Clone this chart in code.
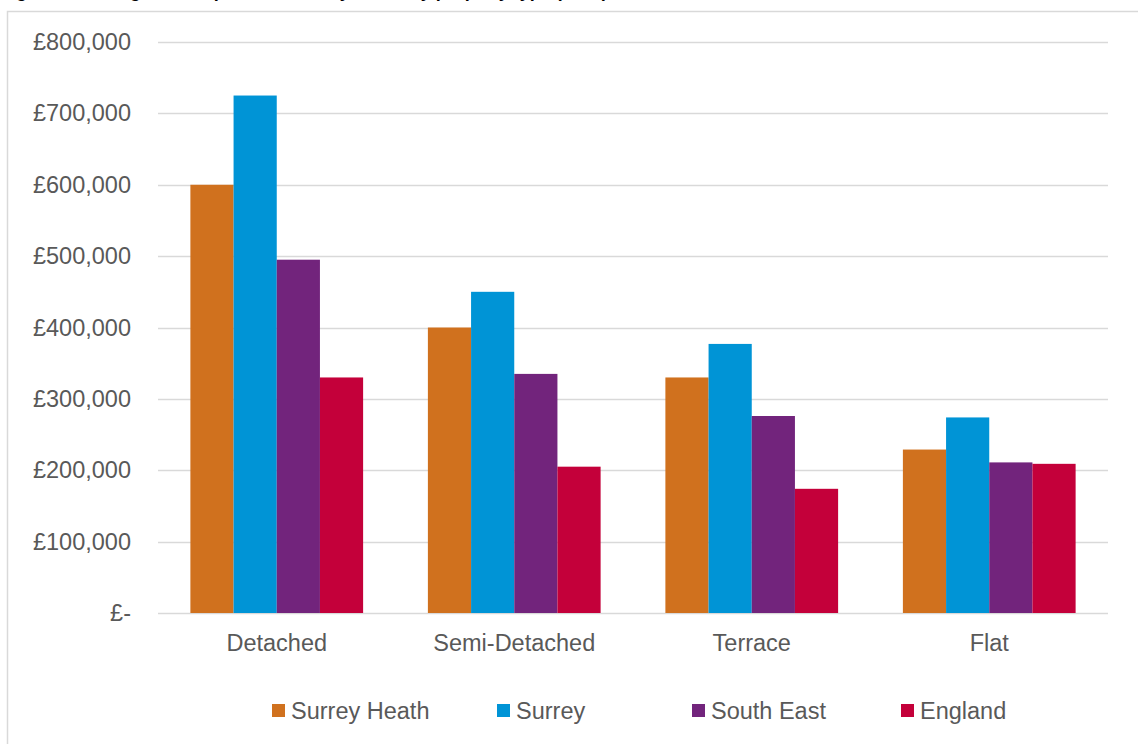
<!DOCTYPE html>
<html>
  <head>
    <meta charset="utf-8" />
    <title>House prices by type</title>
    <style>
      body {
        margin: 0;
        background: #fff;
        font-family: "Liberation Sans", Arial, sans-serif;
      }
      .grid line {
        stroke: #d9d9d9;
        stroke-width: 1.5px;
      }
      .axis-label {
        fill: #595959;
        font-size: 23.5px;
      }
    </style>
    <script src="https://d3js.org/d3.v7.min.js"></script>
  </head>
  <body>
    <div id="chart"></div>
    <script>
      // data
      const categories = ["Detached", "Semi-Detached", "Terrace", "Flat"];
      const seriesNames = ["Surrey Heath", "Surrey", "South East", "England"];
      const surreyHeath = [600000, 400000, 330000, 229000];
      const surrey = [725000, 450000, 377000, 274000];
      const southEast = [495000, 335000, 276000, 211000];
      const england = [330000, 205000, 174000, 209000];
      const yTicks = [0, 100000, 200000, 300000, 400000, 500000, 600000, 700000, 800000];
      const colors = ["#D0711E", "#0094D6", "#72247C", "#C4003A"];

      const series = [surreyHeath, surrey, southEast, england];

      const W = 1138, H = 744;
      const plot = { left: 158, right: 1108, top: 42, bottom: 613 };

      const svg = d3
        .select("#chart")
        .append("svg")
        .attr("width", W)
        .attr("height", H);

      // title, mostly cut off above the image (as in the reference)
      svg
        .append("text")
        .attr("x", 0)
        .attr("y", -3)
        .style("font-weight", "bold")
        .style("font-size", "18px")
        .attr("fill", "#000")
        .text("Figure 8: Average house prices in Surrey Heath by property type (2021)");

      // chart frame
      svg
        .append("rect")
        .attr("x", 7.5)
        .attr("y", 11.5)
        .attr("width", W)
        .attr("height", H)
        .attr("fill", "none")
        .attr("stroke", "#d9d9d9")
        .attr("stroke-width", 1.5);

      const x0 = d3
        .scaleBand()
        .domain(categories)
        .range([plot.left, plot.right]);

      // gap width 150% like Excel
      const x1 = d3
        .scaleBand()
        .domain(seriesNames)
        .range([0, x0.bandwidth()])
        .paddingOuter(0.75)
        .paddingInner(0);

      const y = d3
        .scaleLinear()
        .domain([0, 800000])
        .range([plot.bottom, plot.top]);

      // gridlines
      svg
        .append("g")
        .attr("class", "grid")
        .selectAll("line")
        .data(yTicks)
        .join("line")
        .attr("x1", plot.left)
        .attr("x2", plot.right)
        .attr("y1", (d) => Math.round(y(d)) + 0.5)
        .attr("y2", (d) => Math.round(y(d)) + 0.5);

      // y labels
      const fmt = d3.format(",");
      svg
        .append("g")
        .selectAll("text")
        .data(yTicks)
        .join("text")
        .attr("class", "axis-label")
        .attr("x", 131)
        .attr("y", (d) => y(d) + 8)
        .attr("text-anchor", "end")
        .text((d) => (d === 0 ? "£-" : "£" + fmt(d)));

      // bars
      const groups = svg
        .append("g")
        .selectAll("g")
        .data(categories)
        .join("g")
        .attr("transform", (d) => `translate(${x0(d)},0)`);

      groups
        .selectAll("rect")
        .data((c, i) => seriesNames.map((s, j) => ({ s, j, v: series[j][i] })))
        .join("rect")
        .attr("x", (d) => x1(d.s))
        .attr("width", x1.bandwidth())
        .attr("y", (d) => y(d.v))
        .attr("height", (d) => plot.bottom - y(d.v))
        .attr("fill", (d) => colors[d.j]);

      // category labels
      svg
        .append("g")
        .selectAll("text")
        .data(categories)
        .join("text")
        .attr("class", "axis-label")
        .attr("x", (d) => x0(d) + x0.bandwidth() / 2)
        .attr("y", 651)
        .attr("text-anchor", "middle")
        .text((d) => d);

      // legend
      const legendX = [272, 497, 692, 901];
      const legend = svg
        .append("g")
        .selectAll("g")
        .data(seriesNames)
        .join("g")
        .attr("transform", (d, i) => `translate(${legendX[i]},704)`);

      legend
        .append("rect")
        .attr("width", 13)
        .attr("height", 13)
        .attr("fill", (d, i) => colors[i]);

      legend
        .append("text")
        .attr("class", "axis-label")
        .attr("x", 19)
        .attr("y", 15)
        .text((d) => d);
    </script>
  </body>
</html>
